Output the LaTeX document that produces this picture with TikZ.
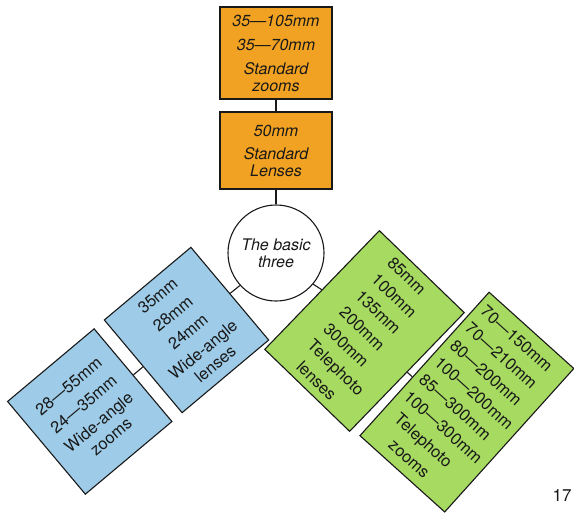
\documentclass[tikz,border=0pt]{standalone}
\usepackage{fontspec}
\setmainfont{TeX Gyre Heros}
\usetikzlibrary{calc}
\definecolor{orangebox}{RGB}{242,162,34}
\definecolor{bluebox}{RGB}{158,204,232}
\definecolor{greenbox}{RGB}{166,218,96}
\definecolor{ink}{RGB}{25,25,25}
\begin{document}
\begin{tikzpicture}[x=1pt,y=-1pt,
  conn/.style={draw=ink, line width=1.1pt},
  obox/.style={draw=ink, line width=1.1pt, fill=orangebox, minimum width=112pt, inner sep=0pt, align=center, text=ink, font=\fontsize{16}{17}\selectfont\itshape},
  bbox/.style={draw=ink, line width=1.1pt, fill=bluebox, minimum width=113pt, minimum height=121pt, inner sep=0pt, align=center, rotate=40, text=ink, font=\fontsize{16.5}{19}\selectfont},
  gbox/.style={draw=ink, line width=1.1pt, fill=greenbox, inner sep=0pt},
  gtext/.style={inner sep=0pt, align=left, anchor=west, text=ink, font=\fontsize{16.5}{23}\selectfont},
  hub/.style={circle, draw=ink, line width=1.1pt, fill=white, minimum size=96pt, inner sep=0pt, align=center, text=ink, font=\fontsize{16}{17}\selectfont\itshape},
  pagenum/.style={inner sep=0pt, text=ink, font=\fontsize{17}{17}\selectfont}]
\useasboundingbox[fill=white] (0,0) rectangle (574,517);

% orange boxes
\node[obox, minimum height=92pt] (o1) at (276,53) {35—105mm\\[7pt]35—70mm\\[7pt]Standard\\zooms};
\node[obox, minimum height=77pt] (o2) at (276,150.5) {50mm\\[6pt]Standard\\Lenses};

% hub
\node[hub] (c) at (276,253) {The basic\\three};

% blue boxes
\node[bbox] (b1) at (186.5,330) {35mm\\[4.5pt]28mm\\[4.5pt]24mm\\[4.5pt]Wide-angle\\lenses};
\node[bbox] (b2) at (89.75,411.5) {28—55mm\\[4.5pt]24—35mm\\[4.5pt]Wide-angle\\zooms};

% green boxes
\node[gbox, rotate=-44, minimum width=118pt, minimum height=165pt] (g1) at (364.5,331) {};
\node[gtext, rotate=-44] (g1t) at ($(g1.center)!31pt!(g1.west)$) {85mm\\100mm\\135mm\\200mm\\300mm\\Telephoto\\\hspace*{7pt}lenses};
\node[gbox, rotate=-42, minimum width=114pt, minimum height=193pt] (g2) at (466.9,402.1) {};
\node[gtext, rotate=-42] (g2t) at ($(g2.center)!50.5pt!(g2.west)$) {70—150mm\\70—210mm\\80—200mm\\100—200mm\\85—300mm\\100—300mm\\\hspace*{8pt}Telephoto\\\hspace*{21pt}zooms};

% connectors
\draw[conn] (o1.south) -- (o2.north);
\draw[conn] (o2.south) -- (c.north);
\draw[conn] (c.222) -- (b1.east);
\draw[conn] (c.-40) -- (g1.west);
\draw[conn] (b2.east) -- ($(b1.north west)!(b2.east)!(b1.south west)$);
\draw[conn] (g1.east) -- ($(g2.north west)!(g1.east)!(g2.south west)$);

% page number
\node[pagenum] (pg) at (562,495) {17};
\end{tikzpicture}
\end{document}
